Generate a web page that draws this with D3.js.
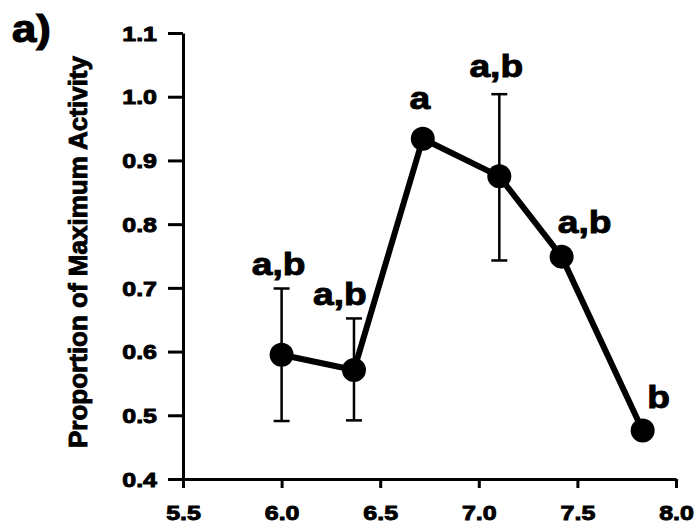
<!DOCTYPE html>
<meta charset="utf-8">
<style>
    body { margin: 0; background: #fff; }
    text { font-family: "Liberation Sans", Arial, sans-serif; font-weight: bold; fill: #000; stroke: #000; stroke-width: 0.9px; }
    .axis path, .axis line { stroke: #000; stroke-width: 3; }
</style>
<svg width="699" height="530"></svg>
<script src="https://d3js.org/d3.v7.min.js"></script>
<script>

// data
var ph = [6.0, 6.367, 6.716, 7.104, 7.42, 7.831];
var activity = [0.595, 0.571, 0.934, 0.875, 0.749, 0.476];
var errLow = [0.491, 0.492, null, 0.743, null, null];
var errHigh = [0.699, 0.652, null, 1.004, null, null];
var letters = ["a,b", "a,b", "a", "a,b", "a,b", "b"];
var xTicks = [5.5, 6.0, 6.5, 7.0, 7.5, 8.0];
var yTicks = [0.4, 0.5, 0.6, 0.7, 0.8, 0.9, 1.0, 1.1];

var svg = d3.select("svg");

var x = d3.scaleLinear().domain([5.5, 8.0]).range([183, 676]),
    y = d3.scaleLinear().domain([0.4, 1.1]).range([479, 33]);

var data = ph.map(function(d, i) {
    return {x: d, y: activity[i], lo: errLow[i], hi: errHigh[i], label: letters[i]};
});

// stretch text a little sideways, the scanned font is wide
function widen(sel, k) {
    sel.each(function() {
        var t = d3.select(this);
        var tx = +t.attr("x") || 0, ty = +t.attr("y") || 0;
        t.attr("x", 0).attr("y", 0)
            .attr("transform", "translate(" + tx + "," + ty + ") scale(" + k + ",1)");
    });
}

// axes
var gy = svg.append("g")
    .attr("class", "axis")
    .attr("transform", "translate(" + x.range()[0] + ",0)")
    .call(d3.axisLeft(y).tickValues(yTicks).tickFormat(d3.format(".1f")).tickSize(15).tickSizeOuter(0).tickPadding(11));
gy.selectAll("text").style("font-size", "20px").attr("dy", "0.36em");
widen(gy.selectAll("text"), 1.25);

var gx = svg.append("g")
    .attr("class", "axis")
    .attr("transform", "translate(0," + y.range()[0] + ")")
    .call(d3.axisBottom(x).tickValues(xTicks).tickFormat(d3.format(".1f")).tickSize(9).tickSizeOuter(0));
gx.selectAll("text").style("font-size", "20px").attr("y", 41).attr("dy", 0);
widen(gx.selectAll("text"), 1.25);

// y axis title
svg.append("text")
    .attr("transform", "translate(87," + 252 + ") rotate(-90)")
    .attr("text-anchor", "middle")
    .style("font-size", "26px")
    .text("Proportion of Maximum Activity");

// panel letter
svg.append("text")
    .attr("x", 12).attr("y", 42)
    .style("font-size", "38px")
    .style("stroke-width", "1.2px")
    .text("a)")
    .call(widen, 1.15);

// error bars
var eb = svg.append("g").selectAll("g")
    .data(data.filter(function(d) { return d.lo != null; }))
    .enter().append("g")
    .attr("stroke", "#000");

eb.append("line")
    .attr("x1", function(d) { return x(d.x); })
    .attr("x2", function(d) { return x(d.x); })
    .attr("y1", function(d) { return y(d.lo); })
    .attr("y2", function(d) { return y(d.hi); })
    .attr("stroke-width", 2.5);

eb.selectAll(".cap")
    .data(function(d) { return [{x: d.x, v: d.lo}, {x: d.x, v: d.hi}]; })
    .enter().append("line")
    .attr("x1", function(d) { return x(d.x) - 8; })
    .attr("x2", function(d) { return x(d.x) + 8; })
    .attr("y1", function(d) { return y(d.v); })
    .attr("y2", function(d) { return y(d.v); })
    .attr("stroke-width", 2.5);

// line + markers
svg.append("path")
    .datum(data)
    .attr("fill", "none")
    .attr("stroke", "#000")
    .attr("stroke-width", 6)
    .attr("stroke-linejoin", "round")
    .attr("d", d3.line().x(function(d) { return x(d.x); }).y(function(d) { return y(d.y); }));

svg.append("g").selectAll("circle")
    .data(data)
    .enter().append("circle")
    .attr("cx", function(d) { return x(d.x); })
    .attr("cy", function(d) { return y(d.y); })
    .attr("r", 12)
    .attr("fill", "#000");

// significance letters, offsets relative to each point
var labelDx = [-3, -14, -3, -3, 23, 16];
var labelDy = [-80, -65, -30, -99, -24, -23];

svg.append("g").selectAll("text")
    .data(data)
    .enter().append("text")
    .attr("x", function(d, i) { return x(d.x) + labelDx[i]; })
    .attr("y", function(d, i) { return y(d.y) + labelDy[i]; })
    .attr("text-anchor", "middle")
    .style("font-size", "31px")
    .text(function(d) { return d.label; })
    .call(widen, 1.2);

</script>
